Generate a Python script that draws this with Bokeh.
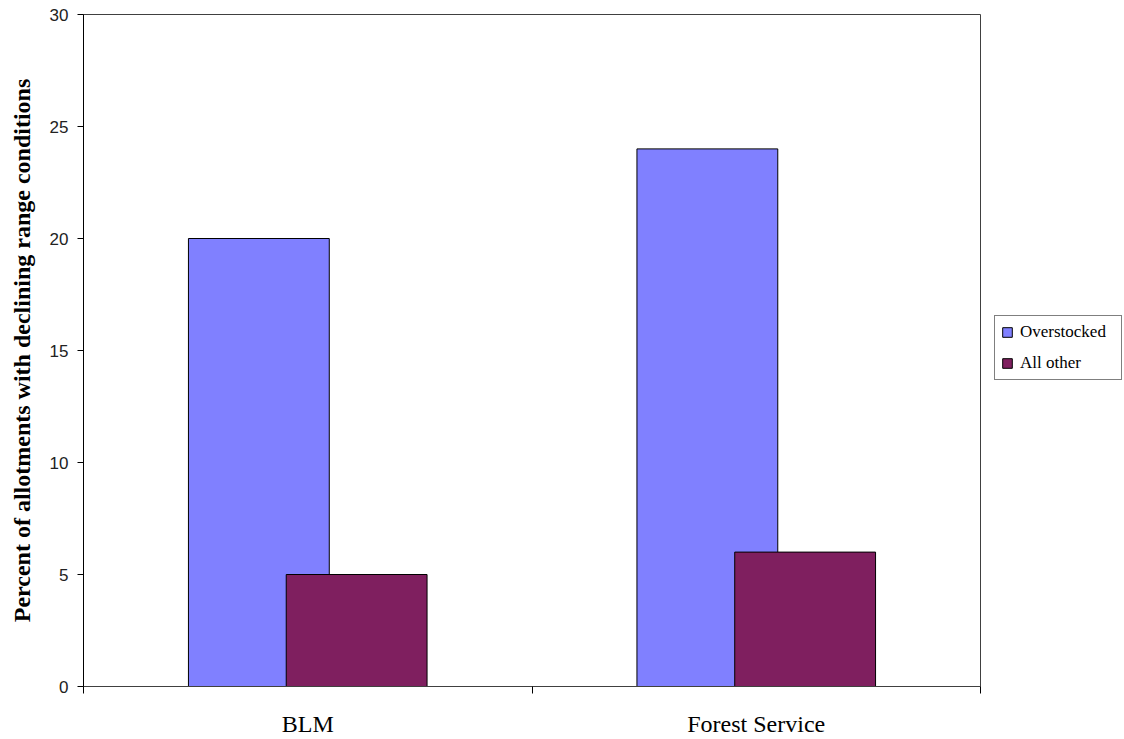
from bokeh.plotting import figure
from bokeh.models import (Range1d, FixedTicker, Legend, LegendItem, ColumnDataSource)
from bokeh.embed import file_html
from bokeh.resources import INLINE

# Data
agencies = ["BLM", "Forest Service"]
overstocked = [20, 24]
all_other = [5, 6]
y_ticks = [0, 5, 10, 15, 20, 25, 30]

centers = [i + 0.5 for i in range(len(agencies))]
bar_w = 0.314
shift = 0.109

src = ColumnDataSource(dict(
    x_over=[c - shift for c in centers],
    x_other=[c + shift for c in centers],
    over=overstocked,
    other=all_other,
))

p = figure(frame_width=897, frame_height=672, output_backend="svg", toolbar_location=None,
           x_range=Range1d(0, len(agencies)), y_range=Range1d(0, 30),
           min_border_left=83, min_border_right=144, min_border_top=14,
           min_border_bottom=53)
p.background_fill_color = "white"
p.border_fill_color = "white"
p.outline_line_color = "#404040"
p.outline_line_width = 1
p.xgrid.visible = False
p.ygrid.visible = False

r_over = p.vbar(x="x_over", top="over", width=bar_w, source=src,
                fill_color="#8080FF", line_color="black", line_width=1)
r_other = p.vbar(x="x_other", top="other", width=bar_w, source=src,
                 fill_color="#7F1F5F", line_color="black", line_width=1)

# X axis: category labels at centres, tick marks at category boundaries
xa = p.xaxis[0]
xa.ticker = FixedTicker(ticks=centers, minor_ticks=list(range(len(agencies) + 1)))
xa.major_label_overrides = {c: a for c, a in zip(centers, agencies)}
xa.major_tick_out = 0
xa.major_tick_in = 0
xa.minor_tick_out = 7
xa.minor_tick_in = 0
xa.minor_tick_line_color = "black"
xa.axis_line_color = "#404040"
xa.major_label_text_font = "Liberation Serif"
xa.major_label_text_font_size = "24px"
xa.major_label_text_color = "black"
xa.major_label_standoff = 17

# Y axis
ya = p.yaxis[0]
ya.ticker = FixedTicker(ticks=y_ticks, minor_ticks=[])
ya.major_tick_out = 6
ya.major_tick_in = 0
ya.major_tick_line_color = "black"
ya.axis_line_color = "black"
ya.major_label_text_font = "Liberation Sans"
ya.major_label_text_font_size = "17px"
ya.major_label_text_color = "#222222"
ya.major_label_standoff = 9
ya.axis_label = "Percent of allotments with declining range conditions"
ya.axis_label_text_font = "Liberation Serif"
ya.axis_label_text_font_style = "bold"
ya.axis_label_text_font_size = "24px"
ya.axis_label_text_color = "black"
ya.axis_label_standoff = 12

legend = Legend(items=[LegendItem(label="Overstocked", renderers=[r_over]),
                       LegendItem(label="All other", renderers=[r_other])],
                location=(14, 306))
legend.label_text_font = "Liberation Serif"
legend.label_text_font_size = "17px"
legend.label_text_color = "black"
legend.glyph_width = 12
legend.glyph_height = 12
legend.label_height = 20
legend.label_width = 95
legend.label_standoff = 7
legend.spacing = 11
legend.padding = 6
legend.margin = 0
legend.border_line_color = "black"
legend.border_line_width = 1
legend.background_fill_alpha = 1
p.add_layout(legend, "right")

open("out.html", "w").write(file_html(p, INLINE))
